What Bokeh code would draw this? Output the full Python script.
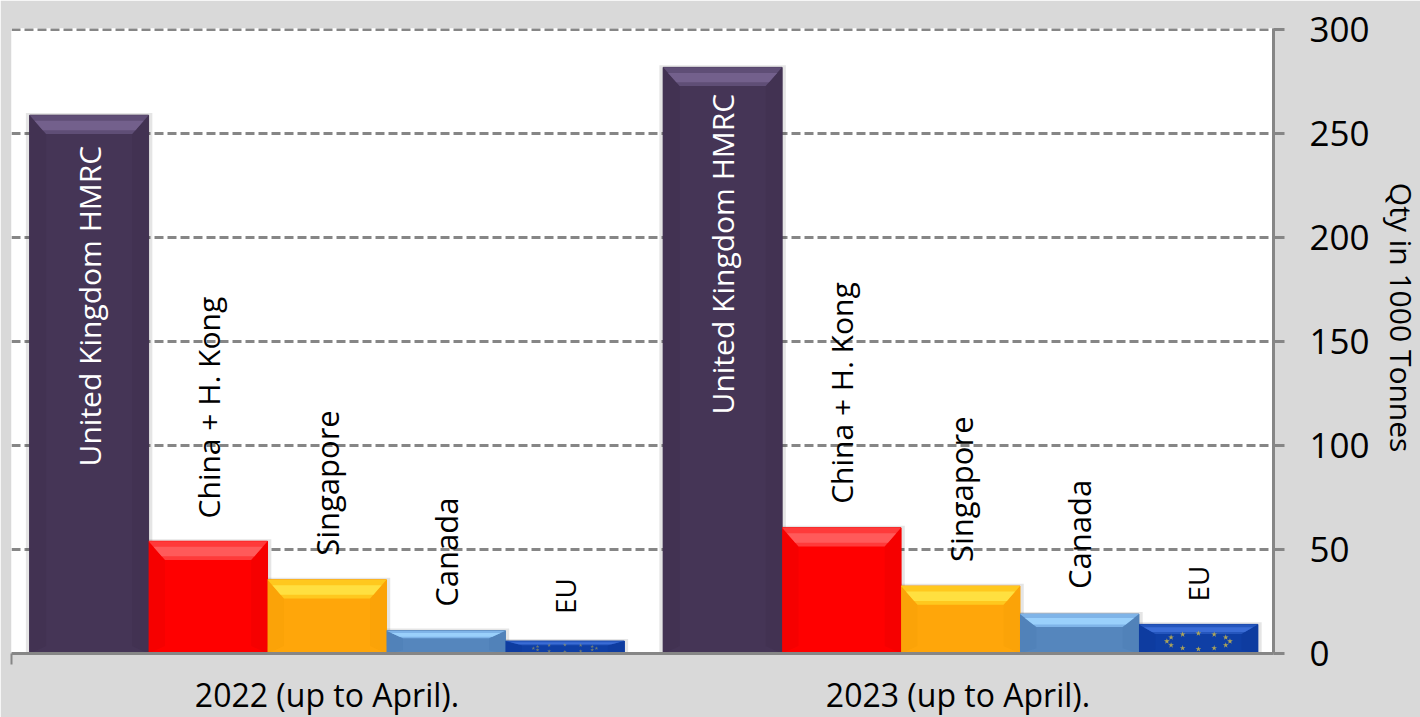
from bokeh.plotting import figure
from bokeh.models import Range1d, LinearAxis, FixedTicker, ColumnDataSource, Grid
from bokeh.core.properties import value
from bokeh.embed import file_html
from bokeh.resources import INLINE
import numpy as np

periods = ["2022 (up to April).", "2023 (up to April)."]
period_pos = [0.5, 1.5]
series = ["United Kingdom HMRC", "China + H. Kong", "Singapore", "Canada", "EU"]
qty_2022 = [259, 54, 35.5, 11, 6]
qty_2023 = [282, 60.5, 32.5, 19, 14]
label_y_2022 = [90, 65, 47, 22.5, 19]
label_y_2023 = [115, 72, 44, 31, 25]
y_ticks = [0, 50, 100, 150, 200, 250, 300]
y_title = "Qty in 1000 Tonnes"

colors = ["#453556", "#ff0000", "#ffa60a", "#5586bd", "#0f3fa5"]
top_colors = ["#5f4e76", "#ff3a3a", "#ffc81e", "#7fb4e8", "#2556bd"]
top_light = ["#73608c", "#ff5a5a", "#ffe040", "#9ad0fb", "#3a6cd6"]
side_colors = ["#423252", "#f60000", "#fba308", "#5182b9", "#0e3ca0"]
text_colors = ["white", "black", "black", "black", "black"]
label_sizes = ["30px", "30px", "31px", "31px", "28px"]
FONT = "Open Sans"
GRAY = "#868686"
BG = "#d9d9d9"

p = figure(width=1420, height=717, frame_width=1262, frame_height=625,
           output_backend="svg", toolbar_location=None,
           x_range=Range1d(0, 2), y_range=Range1d(0, 300.7),
           x_axis_location=None, y_axis_location=None,
           min_border_left=11, min_border_right=147, min_border_top=28, min_border_bottom=64,
           background_fill_color="white", border_fill_color=BG)
p.outline_line_color = None

xa = LinearAxis(ticker=FixedTicker(ticks=period_pos, minor_ticks=[0]),
                major_label_overrides=dict(zip(period_pos, periods)))
xa.axis_line_color = GRAY
xa.axis_line_width = 3
xa.major_tick_line_color = None
xa.major_tick_out = 0
xa.major_tick_in = 0
xa.minor_tick_line_color = GRAY
xa.minor_tick_line_width = 2
xa.minor_tick_out = 11
xa.minor_tick_in = 0
xa.major_label_standoff = 8
xa.major_label_text_font = FONT
xa.major_label_text_font_size = "32px"
xa.major_label_text_color = "black"
p.add_layout(xa, "below")

ya = LinearAxis(ticker=FixedTicker(ticks=y_ticks, minor_ticks=[]))
ya.axis_line_color = GRAY
ya.axis_line_width = 3
ya.major_tick_line_color = GRAY
ya.major_tick_line_width = 3
ya.major_tick_out = 11
ya.major_tick_in = 0
ya.major_label_standoff = 25
ya.major_label_text_font = FONT
ya.major_label_text_font_size = "35px"
ya.major_label_text_color = "black"
ya.axis_label = y_title + "\u00a0" * 6
ya.axis_label_standoff = 8
ya.axis_label_text_font = FONT
ya.axis_label_text_font_style = "normal"
ya.axis_label_text_font_size = "30px"
ya.axis_label_text_color = "black"
p.add_layout(ya, "right")

p.xgrid.visible = False
p.ygrid.visible = False
g = Grid(dimension=1, ticker=FixedTicker(ticks=y_ticks[1:]))
g.grid_line_color = GRAY
g.grid_line_width = 3
g.grid_line_dash = "9 4"
p.add_layout(g)

centers = [0.5, 1.504]
bar_w = 0.1885
bx = 0.026

for c, vals, ly, star_alpha in zip(centers, [qty_2022, qty_2023], [label_y_2022, label_y_2023], [0.5, 0.85]):
    v = np.array(vals, dtype=float)
    mid = c + (np.arange(5) - 2) * bar_w
    l, r = mid - bar_w / 2, mid + bar_w / 2
    by = np.minimum(9, v * 0.33)
    p.quad(left=l - 0.006, right=r + 0.006, bottom=0, top=v + 1.0, fill_color="#000000",
           fill_alpha=0.10, line_color=None)
    p.quad(left=l, right=r, bottom=0, top=v, fill_color=colors, line_color=side_colors, line_width=1)
    xs_l = [[a, a + bx, a + bx, a] for a in l]
    xs_r = [[b, b - bx, b - bx, b] for b in r]
    ys_s = [[t, t - d, d * 0.4, 0] for t, d in zip(v, by)]
    p.patches(xs_l, ys_s, fill_color=side_colors, line_color=None)
    p.patches(xs_r, ys_s, fill_color=side_colors, line_color=None)
    xs_t = [[a, b, b - bx, a + bx] for a, b in zip(l, r)]
    ys_t = [[t, t, t - d, t - d] for t, d in zip(v, by)]
    p.patches(xs_t, ys_t, fill_color=top_colors, line_color=None)
    xs_h = [[a + bx * 0.3, b - bx * 0.3, b - bx * 0.8, a + bx * 0.8] for a, b in zip(l, r)]
    ys_h = [[t - d * 0.3, t - d * 0.3, t - d * 0.8, t - d * 0.8] for t, d in zip(v, by)]
    p.patches(xs_h, ys_h, fill_color=top_light, line_color=None)
    ang = np.arange(12) * np.pi / 6
    p.scatter(mid[4] + 0.05 * np.cos(ang), v[4] * 0.42 + v[4] * 0.27 * np.sin(ang),
              marker="star", size=6 if v[4] > 10 else 4, fill_color="#c9b64a", line_color=None,
              fill_alpha=star_alpha)
    src = ColumnDataSource(dict(x=mid, y=ly, t=series, c=text_colors, s=label_sizes))
    p.text(x="x", y="y", text="t", source=src, angle=np.pi / 2, text_color="c",
           text_font=value(FONT), text_font_size="s", text_align="left", text_baseline="middle")

html = file_html(p, INLINE)
html = html.replace("<body>", f'<body style="background:{BG};margin:0;overflow:hidden">', 1)
open("out.html", "w").write(html)
